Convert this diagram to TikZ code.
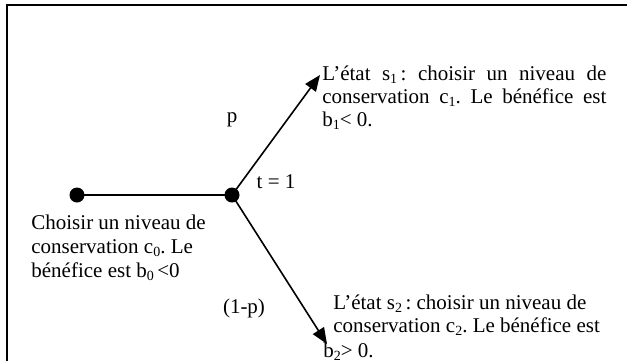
\documentclass[tikz,border=0pt]{standalone}
\usepackage{fontspec}
\setmainfont{Liberation Serif}
\usetikzlibrary{arrows.meta}
\newcommand\lowsub[1]{\raisebox{-0.35ex}{\fontsize{7}{7}\selectfont #1}}
\tikzset{
  dot/.style={circle, fill=black, inner sep=0pt, minimum size=7.5pt},
  branch/.style={line width=0.8pt, -{Triangle[length=8pt,width=6.5pt]}},
  txt/.style={inner sep=0pt, anchor=base west, font=\fontsize{10.5}{11.5}\selectfont},
  lbl/.style={inner sep=0pt, anchor=base, font=\fontsize{10.5}{11.5}\selectfont},
}
\begin{document}
\frenchspacing
\begin{tikzpicture}[x=0.5pt, y=-0.5pt]
\useasboundingbox (0,0) rectangle (627,361);
\draw[line width=1pt] (7,361) -- (7,5) -- (627,5);
\node[dot] (d0) at (77,195) {};
\node[dot] (d1) at (232,195) {};
\coordinate (t1) at (320,75);
\coordinate (t2) at (327,344);
\draw[line width=1pt] (d0.center) -- (d1.center);
\draw[branch] (d1.center) -- (t1);
\draw[branch] (d1.center) -- (t2);
\node[txt] (s1) at (322,80) {\parbox[t]{142pt}{\fontsize{10.5}{11.5}\selectfont\frenchspacing
  \makebox[142pt][s]{L’état s\lowsub{1}\,: choisir un niveau de}\\
  \makebox[142pt][s]{conservation c\lowsub{1}. Le bénéfice est}\\
  b\lowsub{1}< 0.}};
\node[txt] (s2) at (333,309) {\parbox[t]{160pt}{\fontsize{10.5}{11.5}\selectfont\frenchspacing
  L’état s\lowsub{2}\,: choisir un niveau de\\
  conservation c\lowsub{2}. Le bénéfice est\\[1pt]
  \hspace*{-5pt}b\lowsub{2}> 0.}};
\node[txt] (s0) at (31,229) {\parbox[t]{120pt}{\fontsize{10.5}{12}\selectfont\frenchspacing
  Choisir un niveau de\\
  conservation c\lowsub{0}. Le\\
  bénéfice est b\lowsub{0}\,<0}};
\node[lbl] (p) at (232,122) {p};
\node[lbl] (t) at (276,188) {t = 1};
\node[lbl] (q) at (244,313) {(1-p)};
\end{tikzpicture}
\end{document}
